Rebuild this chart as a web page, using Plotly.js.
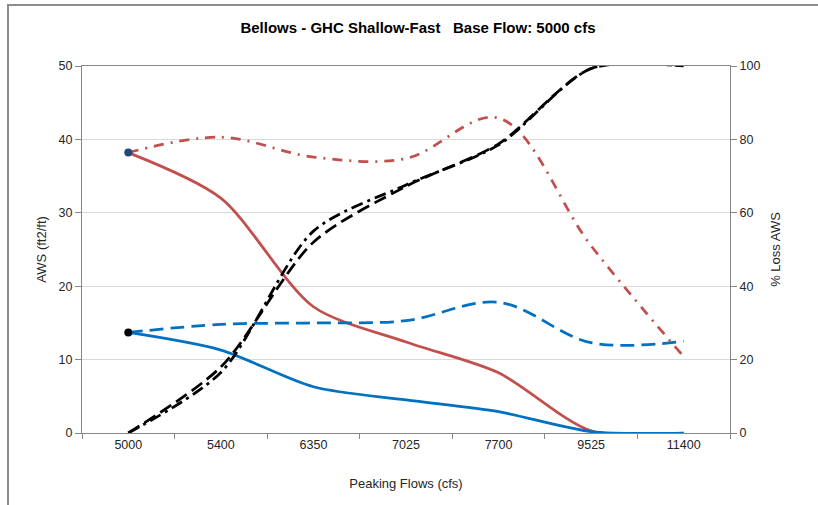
<!DOCTYPE html>
<html>
<head>
<meta charset="utf-8">
<script src="https://cdn.plot.ly/plotly-3.0.1.min.js"></script>
<style>
  html, body { margin: 0; padding: 0; background: #fff; }
  #wrap { position: relative; width: 818px; height: 505px; overflow: hidden; }
  #frame { position: absolute; left: 7px; top: 4px; width: 830px; height: 520px;
           border-left: 2px solid #8c8c8c; border-top: 2px solid #8c8c8c; pointer-events: none; z-index: 5; }
  #chart { position: absolute; left: 0; top: 0; width: 818px; height: 505px; }
</style>
</head>
<body>
<div id="wrap">
  <div id="chart"></div>
  <div id="frame"></div>
</div>
<script>
// Categories (peaking flows, cfs)
const categories = ["5000", "5400", "6350", "7025", "7700", "9525", "11400"];

// AWS (ft2/ft), left axis
const awsRed        = [38.2, 32.0, 17.2, 12.4, 8.2, 0.3, 0.0];
const awsBlue       = [13.7, 11.3, 6.3, 4.5, 2.9, 0.2, 0.0];
const awsRedDashDot = [38.2, 40.3, 37.6, 37.4, 42.9, 25.5, 10.4];
const awsBlueDashed = [13.7, 14.8, 15.0, 15.3, 17.8, 12.3, 12.5];

// % Loss AWS, right axis
const lossRed  = [0, 16.5, 55.0, 67.6, 78.5, 99.3, 100];
const lossBlue = [0, 18.0, 52.0, 67.2, 78.8, 99.3, 100];

// Base-flow points (first category)
const baseCat = ["5000"];
const baseRedPoint  = [38.2];
const baseBluePoint = [13.7];

const RED = "#C0504D", BLUE = "#0070C0", BLACK = "#000000", NAVY = "#1F497D";

const traces = [
  { x: categories, y: awsRed, type: "scatter", mode: "lines",
    line: { color: RED, width: 2.75, shape: "spline", smoothing: 0.8 } },
  { x: categories, y: awsBlue, type: "scatter", mode: "lines",
    line: { color: BLUE, width: 2.75, shape: "spline", smoothing: 0.8 } },
  { x: categories, y: awsRedDashDot, type: "scatter", mode: "lines",
    line: { color: RED, width: 2.75, shape: "spline", smoothing: 1, dash: "10px,7px,2px,7px" } },
  { x: categories, y: awsBlueDashed, type: "scatter", mode: "lines",
    line: { color: BLUE, width: 2.75, shape: "spline", smoothing: 1, dash: "14px,7px" } },
  { x: categories, y: lossRed, type: "scatter", mode: "lines", yaxis: "y2",
    line: { color: BLACK, width: 2.75, shape: "spline", smoothing: 0.8, dash: "12px,5px,3px,5px" } },
  { x: categories, y: lossBlue, type: "scatter", mode: "lines", yaxis: "y2",
    line: { color: BLACK, width: 2.75, shape: "spline", smoothing: 0.8, dash: "13px,6px" } },
  { x: baseCat, y: baseRedPoint, type: "scatter", mode: "markers",
    marker: { color: NAVY, size: 8 } },
  { x: baseCat, y: baseBluePoint, type: "scatter", mode: "markers",
    marker: { color: BLACK, size: 8 } }
];

const axisFont = { family: "Liberation Sans, Arial, sans-serif", size: 12.5, color: "#262626" };
const titleFont = { family: "Liberation Sans, Arial, sans-serif", size: 13, color: "#262626" };

const layout = {
  width: 818, height: 505,
  margin: { l: 82, r: 88, t: 66, b: 72, pad: 0 },
  paper_bgcolor: "#ffffff", plot_bgcolor: "#ffffff",
  showlegend: false,
  font: axisFont,
  title: {
    text: "<b>Bellows - GHC Shallow-Fast   Base Flow: 5000 cfs</b>",
    font: { family: "Liberation Sans, Arial, sans-serif", size: 15, color: "#000" },
    x: 0.511, xref: "container", xanchor: "center",
    y: 0.946, yref: "container", yanchor: "middle"
  },
  xaxis: {
    type: "category", categoryorder: "array", categoryarray: categories,
    range: [-0.5, 6.5],
    showline: true, linecolor: "#868686", linewidth: 1, mirror: true,
    ticks: "outside", tickson: "boundaries", ticklen: 5, tickcolor: "#868686",
    showgrid: false, zeroline: false,
    tickfont: axisFont,
    title: { text: "Peaking Flows (cfs)", font: titleFont, standoff: 27 }
  },
  yaxis: {
    range: [0, 50], dtick: 10, tick0: 0,
    showline: true, linecolor: "#868686", linewidth: 1,
    ticks: "outside", ticklen: 6, tickcolor: "#868686",
    showgrid: true, gridcolor: "#d9d9d9", gridwidth: 1, zeroline: false,
    tickfont: axisFont,
    title: { text: "AWS (ft2/ft)", font: titleFont, standoff: 9 }
  },
  yaxis2: {
    overlaying: "y", side: "right",
    range: [0, 100], dtick: 20, tick0: 0,
    showline: true, linecolor: "#868686", linewidth: 1,
    ticks: "outside", ticklen: 6, tickcolor: "#868686",
    showgrid: false, zeroline: false,
    tickfont: axisFont,
    title: { text: "% Loss AWS", font: titleFont, standoff: 11 }
  }
};

Plotly.newPlot("chart", traces, layout, { staticPlot: true, displayModeBar: false });
</script>
</body>
</html>
